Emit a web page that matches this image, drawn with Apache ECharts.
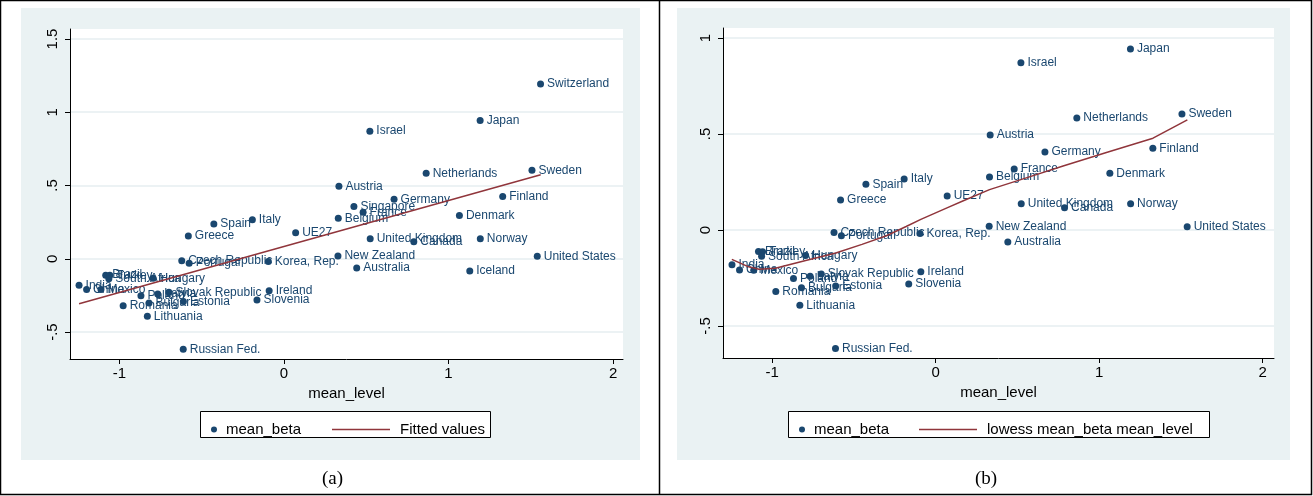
<!DOCTYPE html>
<html><head><meta charset="utf-8">
<script src="https://cdn.jsdelivr.net/npm/echarts@6/dist/echarts.min.js"></script>
<style>html,body{margin:0;padding:0;background:#fff}#c{width:1313px;height:496px}</style>
</head><body><div id="c"></div>
<script>
// ---- data ----
const countries = ["Switzerland","Japan","Israel","Netherlands","Sweden","Finland","Austria","Germany","Singapore","France","Belgium","Denmark","UE27","United Kingdom","Canada","Norway","United States","New Zealand","Iceland","Australia","Korea, Rep.","Czech Republic","Portugal","Greece","Spain","Italy","Brazil","Turkey","South Africa","Hungary","India","China","Mexico","Poland","Latvia","Slovak Republic","Bulgaria","Estonia","Romania","Lithuania","Ireland","Slovenia","Russian Fed."];
const meanLevel = [1.559,1.192,0.522,0.864,1.507,1.329,0.334,0.669,0.425,0.481,0.330,1.066,0.071,0.524,0.789,1.193,1.539,0.328,1.129,0.442,-0.095,-0.621,-0.576,-0.581,-0.426,-0.192,-1.083,-1.058,-1.064,-0.795,-1.245,-1.199,-1.112,-0.869,-0.767,-0.699,-0.820,-0.611,-0.977,-0.830,-0.090,-0.164,-0.612];
const meanBeta = [1.192,0.943,0.871,0.583,0.604,0.425,0.495,0.406,0.357,0.317,0.276,0.295,0.177,0.137,0.116,0.137,0.017,0.019,-0.084,-0.063,-0.019,-0.013,-0.030,0.156,0.238,0.266,-0.112,-0.113,-0.137,-0.133,-0.181,-0.209,-0.210,-0.253,-0.241,-0.229,-0.301,-0.292,-0.320,-0.392,-0.218,-0.281,-0.618];
const excludedInB = ["Switzerland","Singapore","Iceland"];
const fittedLevel = [-1.245, 1.56];
const fittedBeta = [-0.307, 0.573];
const lowessLevel = [-1.246,-1.15,-1.08,-0.98,-0.80,-0.61,-0.45,-0.30,-0.18,-0.09,0.07,0.17,0.33,0.55,0.78,1.05,1.33,1.54];
const lowessBeta = [-0.153,-0.190,-0.205,-0.200,-0.160,-0.120,-0.075,-0.030,0.018,0.055,0.115,0.152,0.210,0.270,0.333,0.405,0.478,0.573];
const xTicks = [-1,0,1,2];
const yTicksA = [-0.5,0,0.5,1,1.5];
const yTicksB = [-0.5,0,0.5,1];
const captions = ["(a)","(b)"];
const xTitle = "mean_level";
const scatterName = "mean_beta";
const lineNames = ["Fitted values","lowess mean_beta mean_level"];

// ---- styles ----
const NAVY = '#1a476f', MAROON = '#90353b', BG = '#eaf2f3', GRID = '#e6eef0';
const FONT = '"Liberation Sans", Arial, sans-serif';
const stataFmt = v => String(v).replace(/^(-?)0\./, '$1.');

const ptsA = countries.map((n,i)=>({name:n, value:[meanLevel[i], meanBeta[i]]}));
const ptsB = ptsA.filter(p => !excludedInB.includes(p.name));
const fitPts = fittedLevel.map((x,i)=>[x, fittedBeta[i]]);
const lowPts = lowessLevel.map((x,i)=>[x, lowessBeta[i]]);

function xAxis(idx, min, max){
  return {gridIndex: idx, type:'value', min, max,
    name: xTitle, nameLocation:'middle', nameGap: 25,
    nameTextStyle:{fontFamily:FONT, fontSize:15, color:'#000'},
    axisLine:{show:true, onZero:false, lineStyle:{color:'#000', width:1}},
    axisTick:{show:true, length:5, lineStyle:{color:'#000'}, customValues: xTicks},
    axisLabel:{fontFamily:FONT, fontSize:15, color:'#000', margin:7, customValues: xTicks, formatter: stataFmt},
    splitLine:{show:false}};
}
function yAxis(idx, min, max, ticks){
  return {gridIndex: idx, type:'value', min, max,
    axisLine:{show:true, onZero:false, lineStyle:{color:'#000', width:1}},
    axisTick:{show:true, length:5, lineStyle:{color:'#000'}, customValues: ticks},
    axisLabel:{fontFamily:FONT, fontSize:15, color:'#000', margin:10, rotate:90, customValues: ticks, formatter: stataFmt},
    splitLine:{show:true, lineStyle:{color:GRID, width:1.5}}};
}
const scatterSeries = (idx, data) => ({
  type:'scatter', name: scatterName, xAxisIndex: idx, yAxisIndex: idx, data,
  symbolSize:7, itemStyle:{color:NAVY, opacity:1}, z:3,
  label:{show:true, position:'right', distance:3, formatter:'{b}', fontFamily:FONT, fontSize:12, color:NAVY},
  emphasis:{disabled:true}
});
const legText = {fontFamily:FONT, fontSize:15, color:'#000'};
const lineIcon = 'path://M0,0L58,0L58,1.5L0,1.5Z';

const chart = echarts.init(document.getElementById('c'), null, {renderer:'canvas'});
chart.setOption({
  animation:false,
  backgroundColor:'#fff',
  graphic:[
    {type:'rect', z:-10, shape:{x:21, y:8, width:619, height:452}, style:{fill:BG}},
    {type:'rect', z:-10, shape:{x:677, y:8, width:613, height:452}, style:{fill:BG}},
    {type:'rect', z:-5, shape:{x:0.5, y:0.5, width:1311, height:494}, style:{fill:null, stroke:'#000', lineWidth:1.5}},
    {type:'line', z:-5, shape:{x1:659.5, y1:0, x2:659.5, y2:495}, style:{stroke:'#000', lineWidth:1.5}},
    {type:'text', left:322, top:470, style:{text:captions[0], font:'19px "Liberation Serif", serif', fill:'#000'}},
    {type:'text', left:975, top:470, style:{text:captions[1], font:'19px "Liberation Serif", serif', fill:'#000'}},
    {type:'rect', z:-1, shape:{x:200.5, y:411.5, width:290, height:26}, style:{fill:'#fff', stroke:'#000', lineWidth:1}},
    {type:'rect', z:-1, shape:{x:788.5, y:411.5, width:421, height:26}, style:{fill:'#fff', stroke:'#000', lineWidth:1}}
  ],
  grid:[
    {left:70, top:29, width:553, height:330, show:true, backgroundColor:'#fff', borderWidth:0},
    {left:723, top:28, width:551, height:330, show:true, backgroundColor:'#fff', borderWidth:0}
  ],
  xAxis:[xAxis(0,-1.30,2.06), xAxis(1,-1.30,2.07)],
  yAxis:[yAxis(0,-0.684,1.568,yTicksA), yAxis(1,-0.667,1.052,yTicksB)],
  legend:[
    {left:206, top:417, itemWidth:6, itemHeight:6, icon:'circle', data:[scatterName], textStyle:Object.assign({padding:[0,0,0,4]}, legText)},
    {left:327, top:417, itemWidth:58, itemHeight:10, data:[{name:lineNames[0], icon:lineIcon}], textStyle:Object.assign({padding:[0,0,0,5]}, legText)},
    {left:794, top:417, itemWidth:6, itemHeight:6, icon:'circle', data:[scatterName], textStyle:Object.assign({padding:[0,0,0,4]}, legText)},
    {left:914, top:417, itemWidth:58, itemHeight:10, data:[{name:lineNames[1], icon:lineIcon}], textStyle:Object.assign({padding:[0,0,0,5]}, legText)}
  ],
  series:[
    scatterSeries(0, ptsA),
    {type:'line', name:lineNames[0], xAxisIndex:0, yAxisIndex:0, data:fitPts, showSymbol:false, symbol:'none', itemStyle:{color:MAROON}, lineStyle:{color:MAROON, width:1.5}, z:4},
    scatterSeries(1, ptsB),
    {type:'line', name:lineNames[1], xAxisIndex:1, yAxisIndex:1, data:lowPts, showSymbol:false, symbol:'none', itemStyle:{color:MAROON}, lineStyle:{color:MAROON, width:1.5}, z:4}
  ]
});
</script></body></html>
